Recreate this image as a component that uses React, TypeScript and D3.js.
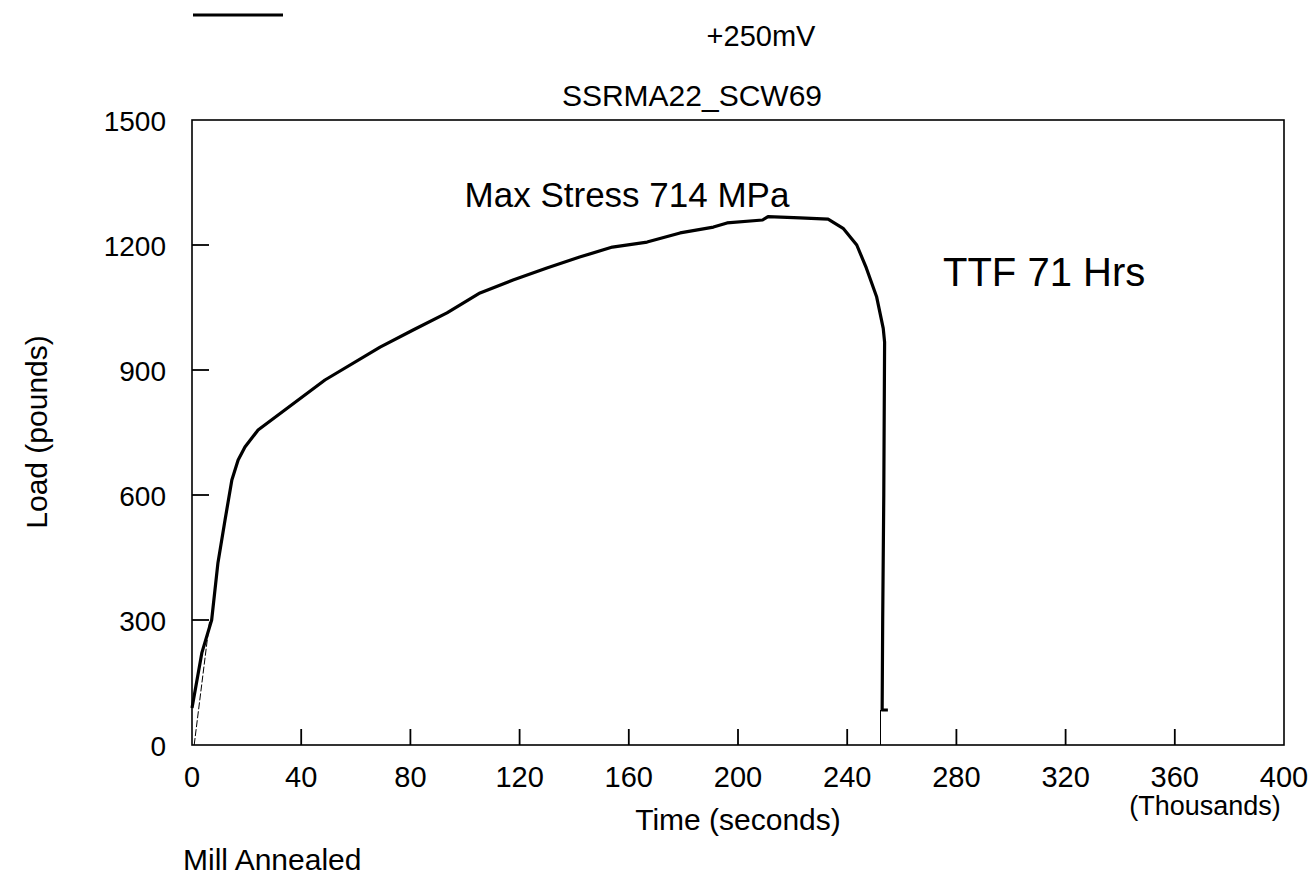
import React, { useRef, useEffect } from "react";
import * as d3 from "d3";

// time in thousands of seconds, load in pounds
const loadTime = [0, 3.6, 7.2, 9.5, 12.1, 14.6, 16.9, 19.4, 24.2, 34, 48.7, 68.9, 81, 93.4, 105.5, 117.6, 130, 142, 154, 166.7, 178.8, 191, 196, 209, 211, 222.7, 233, 238.5, 243.5, 247, 250.8, 253.2, 253.7, 253.4, 253.0, 252.8, 254.9];
const loadValue = [89, 221, 300, 437, 540, 636, 684, 715, 756, 804, 876, 955, 996, 1037, 1085, 1116, 1145, 1171, 1195, 1207, 1229, 1243, 1253, 1260, 1268, 1265, 1262, 1240, 1200, 1145, 1075, 1000, 967, 600, 300, 84, 84];

// faint reference line at the start and at the break
const startTime = [0.8, 6.5];
const startValue = [0, 300];
const breakTime = [252.2, 252.2];
const breakValue = [84, 0];

const xTicks = [0, 40, 80, 120, 160, 200, 240, 280, 320, 360, 400];
const yTicks = [0, 300, 600, 900, 1200, 1500];

const W = 1315;
const H = 879;
const left = 192;
const right = 1284;
const top = 120;
const bottom = 745;
const font = "Arial, 'Liberation Sans', Helvetica, sans-serif";

const App = () => {
  const ref = useRef<SVGSVGElement>(null);

  useEffect(() => {
    const svg = d3.select(ref.current);
    svg.selectAll("*").remove();

    const x = d3.scaleLinear().domain([0, 400]).range([left, right]);
    const y = d3.scaleLinear().domain([0, 1500]).range([bottom, top]);

    // frame
    svg
      .append("rect")
      .attr("x", left)
      .attr("y", top)
      .attr("width", right - left)
      .attr("height", bottom - top)
      .attr("fill", "none")
      .attr("stroke", "#000")
      .attr("stroke-width", 1.6);

    // inward ticks
    svg
      .append("g")
      .selectAll("line")
      .data(xTicks.slice(1, -1))
      .join("line")
      .attr("x1", d => x(d))
      .attr("x2", d => x(d))
      .attr("y1", bottom)
      .attr("y2", bottom - 16)
      .attr("stroke", "#000")
      .attr("stroke-width", 1.8);

    svg
      .append("g")
      .selectAll("line")
      .data(yTicks.slice(1, -1))
      .join("line")
      .attr("x1", left)
      .attr("x2", left + 17)
      .attr("y1", d => y(d))
      .attr("y2", d => y(d))
      .attr("stroke", "#000")
      .attr("stroke-width", 1.8);

    // tick labels
    svg
      .append("g")
      .selectAll("text")
      .data(xTicks)
      .join("text")
      .attr("x", d => x(d))
      .attr("y", 787)
      .attr("text-anchor", "middle")
      .attr("font-family", font)
      .attr("font-size", 29)
      .text(d => d);

    svg
      .append("g")
      .selectAll("text")
      .data(yTicks)
      .join("text")
      .attr("x", 166)
      .attr("y", d => y(d) + 11)
      .attr("text-anchor", "end")
      .attr("font-family", font)
      .attr("font-size", 28)
      .text(d => d);

    // thin lines
    const thin = d3
      .line<number>()
      .x(d => d[0])
      .y(d => d[1]);
    svg
      .append("path")
      .attr("d", thin(startTime.map((t, i) => [x(t), y(startValue[i])]) as any))
      .attr("fill", "none")
      .attr("stroke", "#000")
      .attr("stroke-width", 1)
      .attr("stroke-dasharray", "7,2");
    svg
      .append("path")
      .attr("d", thin(breakTime.map((t, i) => [x(t), y(breakValue[i])]) as any))
      .attr("fill", "none")
      .attr("stroke", "#000")
      .attr("stroke-width", 1);

    // main load curve
    const line = d3
      .line<number>()
      .x((d, i) => x(loadTime[i]))
      .y(d => y(d));
    svg
      .append("path")
      .attr("d", line(loadValue))
      .attr("fill", "none")
      .attr("stroke", "#000")
      .attr("stroke-width", 3.2)
      .attr("stroke-linejoin", "round");

    // legend stroke
    svg
      .append("line")
      .attr("x1", 193)
      .attr("x2", 283)
      .attr("y1", 15)
      .attr("y2", 15)
      .attr("stroke", "#000")
      .attr("stroke-width", 3);

    const label = (txt: string, tx: number, ty: number, size: number, anchor = "middle") =>
      svg
        .append("text")
        .attr("x", tx)
        .attr("y", ty)
        .attr("text-anchor", anchor)
        .attr("font-family", font)
        .attr("font-size", size)
        .text(txt);

    label("+250mV", 761, 46, 29);
    label("SSRMA22_SCW69", 692, 106, 30);
    label("Max Stress 714 MPa", 627, 207, 35);
    label("TTF 71 Hrs", 943, 286, 40, "start");
    label("Time (seconds)", 738, 830, 30);
    label("(Thousands)", 1205, 815, 27);
    label("Mill Annealed", 183, 870, 30, "start");
    label("Load (pounds)", 0, 0, 30).attr("transform", "translate(47,432) rotate(-90)");
  }, []);

  return <svg ref={ref} width={W} height={H} style={{ display: "block", position: "absolute", left: 0, top: 0, background: "#fff" }} />;
};

export default App;
